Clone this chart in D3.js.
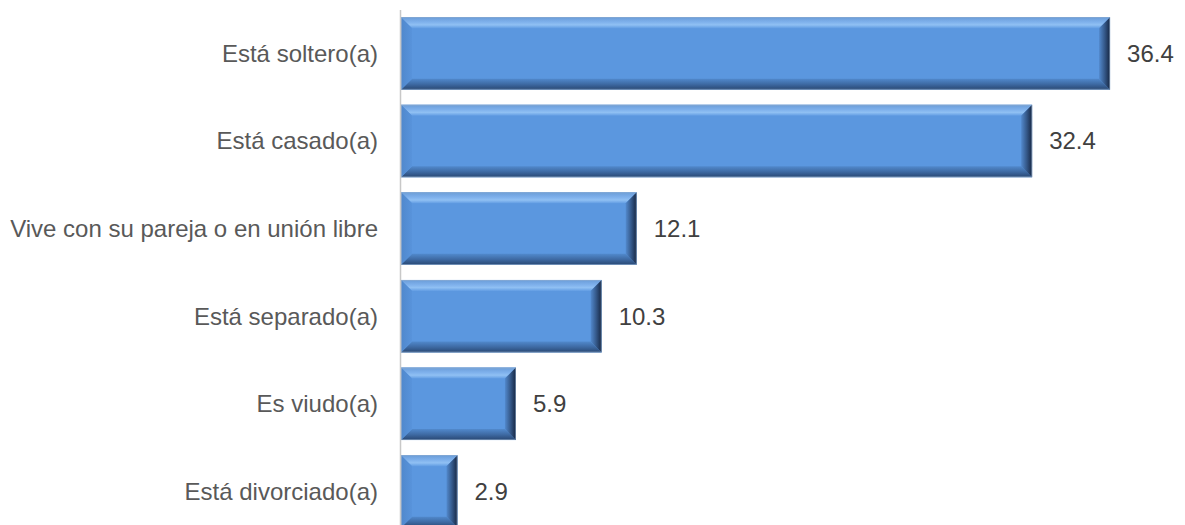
<!DOCTYPE html>
<html><head><meta charset="utf-8">
<script src="https://cdn.jsdelivr.net/npm/d3@7"></script>
<style>html,body{margin:0;padding:0;background:#fff;overflow:hidden}</style>
</head><body>
<svg id="chart" width="1185" height="525"></svg>
<script>
const categories = ["Está soltero(a)", "Está casado(a)", "Vive con su pareja o en unión libre", "Está separado(a)", "Es viudo(a)", "Está divorciado(a)"];
const values = [36.4, 32.4, 12.1, 10.3, 5.9, 2.9];
const valueLabels = ["36.4", "32.4", "12.1", "10.3", "5.9", "2.9"];

const svg = d3.select("#chart");
const x = d3.scaleLinear().domain([0, 40]).range([401, 1180.2]);
const y = d3.scaleBand().domain(categories).range([9.6, 535.2]).paddingInner(0.172).paddingOuter(0.086);

const defs = svg.append("defs");
function grad(id, x2, y2, stops) {
  const g = defs.append("linearGradient").attr("id", id).attr("x1", 0).attr("y1", 0).attr("x2", x2).attr("y2", y2);
  stops.forEach(s => g.append("stop").attr("offset", s[0]).attr("stop-color", s[1]));
}
grad("gTop", 0, 1, [[0, "#6a9cd8"], [0.45, "#7fb1ec"], [0.7, "#90c0f3"], [1, "#629de3"]]);
grad("gBot", 0, 1, [[0, "#5189cc"], [0.5, "#3e6aa3"], [0.9, "#2d4e7c"], [1, "#4b6f9c"]]);
grad("gRight", 1, 0, [[0, "#5289cd"], [0.5, "#35598a"], [0.9, "#1c3050"], [1, "#3a5578"]]);
grad("gLeft", 1, 0, [[0, "#5088cc"], [1, "#5893db"]]);

const b = 11;
const bw = y.bandwidth();
const bars = svg.append("g").selectAll("g").data(categories).join("g");
bars.each(function(c, i) {
  const g = d3.select(this);
  const x0 = x(0), x1 = x(values[i]), y0 = y(c), y1 = y0 + bw;
  const bb = Math.min(b, (x1 - x0) / 2);
  g.append("rect").attr("x", x0).attr("y", y0).attr("width", x1 - x0).attr("height", bw).attr("fill", "#5b97df");
  const poly = (pts, fill) => g.append("polygon").attr("points", pts.map(p => p.join(",")).join(" ")).attr("fill", fill);
  poly([[x0, y0], [x1, y0], [x1 - bb, y0 + b], [x0 + bb, y0 + b]], "url(#gTop)");
  poly([[x0, y1], [x1, y1], [x1 - bb, y1 - b], [x0 + bb, y1 - b]], "url(#gBot)");
  poly([[x0, y0], [x0 + bb, y0 + b], [x0 + bb, y1 - b], [x0, y1]], "url(#gLeft)");
  poly([[x1, y0], [x1 - bb, y0 + b], [x1 - bb, y1 - b], [x1, y1]], "url(#gRight)");
  g.append("rect").attr("x", x0 + 0.5).attr("y", y0 + 0.5).attr("width", x1 - x0 - 1).attr("height", bw - 1)
    .attr("fill", "none").attr("stroke", "#9fb3cc").attr("stroke-width", 0.8).attr("stroke-opacity", 0.5);
});

// axis line
svg.append("line").attr("x1", 400.5).attr("x2", 400.5).attr("y1", 10).attr("y2", 525)
  .attr("stroke", "#c8c8c8").attr("stroke-width", 1.5);

const font = "'Liberation Sans', Arial, sans-serif";
svg.append("g").selectAll("text").data(categories).join("text")
  .attr("x", 378).attr("y", c => y(c) + bw / 2).attr("dy", "0.35em")
  .attr("text-anchor", "end").attr("font-family", font).attr("font-size", 24).attr("fill", "#595959")
  .text(c => c);

svg.append("g").selectAll("text").data(categories).join("text")
  .attr("x", (c, i) => x(values[i]) + 17).attr("y", c => y(c) + bw / 2).attr("dy", "0.35em")
  .attr("font-family", font).attr("font-size", 24).attr("fill", "#404040")
  .text((c, i) => valueLabels[i]);
</script>
</body></html>
